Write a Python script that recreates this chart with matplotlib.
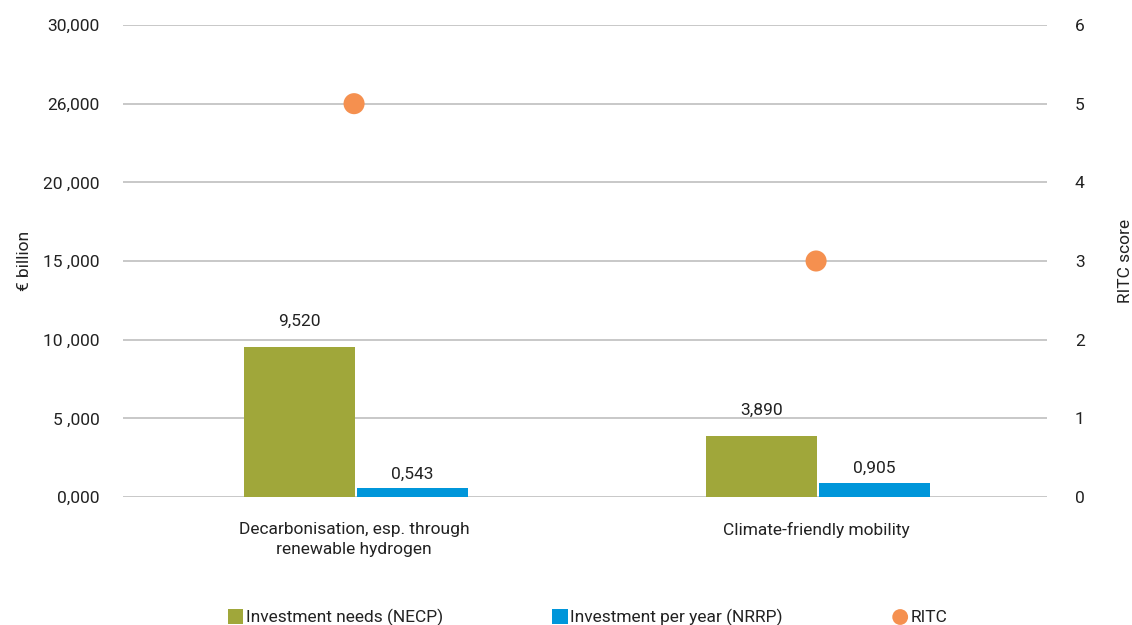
import numpy as np
import matplotlib.pyplot as plt

plt.rcParams['font.family'] = ['Roboto', 'DejaVu Sans']

categories = ["Decarbonisation, esp. through\nrenewable hydrogen", "Climate-friendly mobility"]
needs_necp = [9.520, 3.890]
per_year_nrrp = [0.543, 0.905]
ritc_score = [5, 3]
left_ticks = [0, 5, 10, 15, 20, 25, 30]
left_tick_labels = ["0,000", "5 ,000", "10 ,000", "15 ,000", "20 ,000", "26,000", "30,000"]
right_ticks = [0, 1, 2, 3, 4, 5, 6]

green = '#A0A73A'
blue = '#0096DA'
orange = '#F5904F'
text_col = '#222222'
fs = 12.5

fig = plt.figure(figsize=(11.32, 6.25), dpi=100)
ax1 = fig.add_axes([0.1087, 0.2048, 0.8163, 0.7552])
ax2 = ax1.twinx()

x = np.arange(len(categories))
w = 0.24
b1 = ax1.bar(x - w / 2 + 0.002, needs_necp, width=w, color=green, label="Investment needs (NECP)", zorder=3)
b2 = ax1.bar(x + w / 2 + 0.006, per_year_nrrp, width=w, color=blue, label="Investment per year (NRRP)", zorder=3)

for bars, vals, off in [(b1, needs_necp, 1.15), (b2, per_year_nrrp, 0.45)]:
    for rect, v in zip(bars, vals):
        ax1.text(rect.get_x() + rect.get_width() / 2, v + off, f"{v:.3f}".replace(".", ","),
                 ha='center', va='bottom', fontsize=fs, color=text_col)

pts = ax2.scatter(x, ritc_score, s=230, color=orange, zorder=5, label="RITC", edgecolors='none')

ax1.set_xlim(-0.5, 1.5)
ax1.set_ylim(0, 30)
ax2.set_ylim(0, 6)
ax1.set_yticks(left_ticks)
ax1.set_yticklabels(left_tick_labels)
ax2.set_yticks(right_ticks)
ax1.set_xticks(x)
ax1.set_xticklabels(categories, linespacing=1.4)

ax1.grid(True, axis='y', color='#BFBFBF', linewidth=1.2, zorder=0)
for ax in (ax1, ax2):
    for s in ax.spines.values():
        s.set_visible(False)
    ax.tick_params(length=0, labelsize=fs, colors=text_col)
ax1.tick_params(axis='y', pad=17)
ax2.tick_params(axis='y', pad=20)
ax1.tick_params(axis='x', pad=18)

ax1.set_ylabel("€ billion", fontsize=fs, color=text_col, labelpad=8)
ax2.set_ylabel("RITC score", fontsize=fs, color=text_col, labelpad=24)

handles = [b1, b2, pts]
fig.legend(handles, [h.get_label() for h in handles], loc='lower center', bbox_to_anchor=(0.519, -0.027),
           ncol=3, frameon=False, fontsize=fs, handlelength=0.9, handleheight=0.9, handletextpad=0.15,
           columnspacing=6.3, markerscale=0.75, labelcolor=text_col)

plt.savefig("out.png", dpi=100)
